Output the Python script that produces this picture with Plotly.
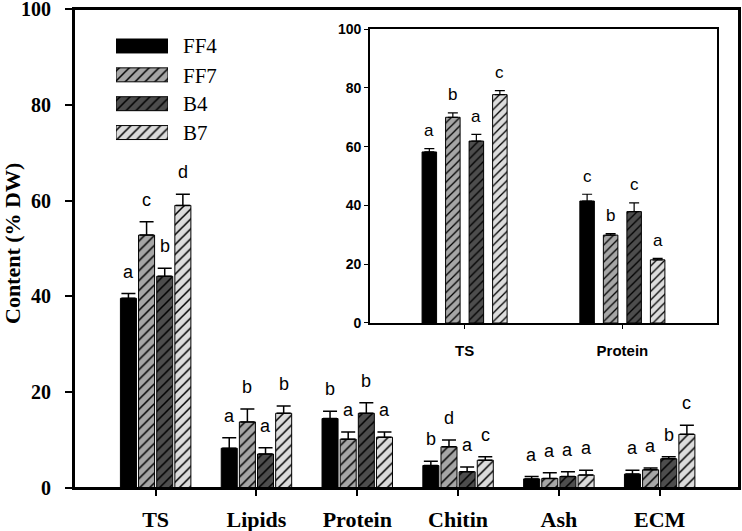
import plotly.graph_objects as go

# ---------------- data ----------------
categories = ["TS", "Lipids", "Protein", "Chitin", "Ash", "ECM"]
series = ["FF4", "FF7", "B4", "B7"]

ff4 = [39.6, 8.3, 14.5, 4.7, 1.9, 2.9]
ff4_err = [1.0, 2.2, 1.5, 0.9, 0.5, 0.8]
ff7 = [52.8, 13.8, 10.2, 8.6, 2.0, 3.8]
ff7_err = [2.8, 2.7, 1.5, 1.4, 1.2, 0.4]
b4 = [44.2, 7.1, 15.6, 3.4, 2.4, 6.1]
b4_err = [1.7, 1.3, 2.2, 1.0, 1.0, 0.4]
b7 = [59.0, 15.6, 10.6, 5.8, 2.7, 11.2]
b7_err = [2.3, 1.5, 1.1, 0.7, 1.0, 1.9]

ff4_letters = ["a", "a", "b", "b", "a", "a"]
ff7_letters = ["c", "b", "a", "d", "a", "a"]
b4_letters = ["b", "a", "b", "a", "a", "b"]
b7_letters = ["d", "b", "a", "c", "a", "c"]

inset_categories = ["TS", "Protein"]
in_ff4 = [58.2, 41.5]
in_ff4_err = [1.1, 2.3]
in_ff7 = [70.0, 29.9]
in_ff7_err = [1.5, 0.5]
in_b4 = [61.9, 37.9]
in_b4_err = [2.3, 3.0]
in_b7 = [77.7, 21.5]
in_b7_err = [1.4, 0.5]

in_ff4_letters = ["a", "c"]
in_ff7_letters = ["b", "b"]
in_b4_letters = ["a", "c"]
in_b7_letters = ["c", "a"]

main_ticks = [0, 20, 40, 60, 80, 100]
inset_ticks = [0, 20, 40, 60, 80, 100]

# ---------------- styles ----------------
fills = ["#000000", "#a6a6a6", "#4d4d4d", "#dcdcdc"]
shapes_ = ["", "/", "/", "/"]

main_vals = [ff4, ff7, b4, b7]
main_errs = [ff4_err, ff7_err, b4_err, b7_err]
main_letters = [ff4_letters, ff7_letters, b4_letters, b7_letters]
in_vals = [in_ff4, in_ff7, in_b4, in_b7]
in_errs = [in_ff4_err, in_ff7_err, in_b4_err, in_b7_err]
in_letters = [in_ff4_letters, in_ff7_letters, in_b4_letters, in_b7_letters]

xpos = list(range(len(categories)))
xpos_in = list(range(len(inset_categories)))

MAIN_W, MAIN_P = 0.159, 0.18
IN_W, IN_P = 0.092, 0.149

serif = "Liberation Serif, Times New Roman, serif"
sans = "Liberation Sans, Arial, sans-serif"

fig = go.Figure()
annotations = []


def pattern(i, size):
    if shapes_[i] == "":
        return dict(shape="")
    return dict(shape=shapes_[i], fgcolor="black", bgcolor=fills[i],
                size=size, solidity=0.22, fillmode="replace")


for i, name in enumerate(series):
    c_off = (i - 1.5) * MAIN_P
    fig.add_trace(go.Bar(
        x=xpos, y=main_vals[i], name=name, width=MAIN_W,
        offset=c_off - MAIN_W / 2,
        marker=dict(color=fills[i], line=dict(color="black", width=1),
                    pattern=pattern(i, 7)),
        error_y=dict(type="data", array=main_errs[i],
                     arrayminus=[0] * len(xpos), symmetric=False,
                     color="black", thickness=1.5, width=7),
        xaxis="x", yaxis="y", showlegend=False))
    for j in xpos:
        annotations.append(dict(
            x=j + c_off, y=main_vals[i][j] + main_errs[i][j], xref="x", yref="y",
            text=main_letters[i][j], showarrow=False, yanchor="middle",
            yshift=22, font=dict(family=sans, size=18, color="black")))

for i, name in enumerate(series):
    c_off = (i - 1.5) * IN_P
    fig.add_trace(go.Bar(
        x=xpos_in, y=in_vals[i], name=name, width=IN_W,
        offset=c_off - IN_W / 2,
        marker=dict(color=fills[i], line=dict(color="black", width=1),
                    pattern=pattern(i, 6)),
        error_y=dict(type="data", array=in_errs[i],
                     arrayminus=[0] * len(xpos_in), symmetric=False,
                     color="black", thickness=1.2, width=5),
        xaxis="x2", yaxis="y2", showlegend=False))
    for j in xpos_in:
        annotations.append(dict(
            x=j + c_off, y=in_vals[i][j] + in_errs[i][j], xref="x2", yref="y2",
            text=in_letters[i][j], showarrow=False, yanchor="middle",
            yshift=18, font=dict(family=sans, size=17, color="black")))

# custom legend swatches (long hatched rectangles like the original)
for i, name in enumerate(series):
    fig.add_trace(go.Bar(
        y=[i], x=[1], orientation="h", width=0.484,
        marker=dict(color=fills[i], line=dict(color="black", width=1),
                    pattern=pattern(i, 7)),
        xaxis="x3", yaxis="y3", showlegend=False, hoverinfo="skip"))

leg_y = [45, 75, 103.3, 131.7]
for i, name in enumerate(series):
    annotations.append(dict(
        x=(181 - 74) / 665, y=(487 - leg_y[i]) / 479, xref="paper", yref="paper",
        text=name, showarrow=False, xanchor="left", yanchor="middle",
        font=dict(family=serif, size=21, color="black")))

annotations.append(dict(
    x=(13 - 74) / 665, y=(487 - 243) / 479, xref="paper", yref="paper",
    text="<b>Content (% DW)</b>", textangle=-90, showarrow=False,
    xanchor="center", yanchor="middle", borderpad=0,
    font=dict(family=serif, size=22, color="black")))

axis_line = dict(showline=True, linecolor="black", linewidth=2, mirror=True,
                 showgrid=False, zeroline=False, automargin=False,
                 ticklabeloverflow="allow")

fig.update_layout(
    width=742, height=531,
    margin=dict(l=74, r=3, t=9, b=43, autoexpand=False),
    paper_bgcolor="white", plot_bgcolor="white",
    barmode="overlay",
    xaxis=dict(domain=[0, 1], range=[-0.81, 5.787], tickmode="array",
               tickvals=xpos, ticktext=categories, ticks="outside",
               ticklen=6, tickwidth=1.5, tickcolor="black",
               ticklabelstandoff=5,
               tickfont=dict(family=serif, size=22, color="black", weight="bold"),
               **axis_line),
    yaxis=dict(domain=[0, 1], range=[0, 100], tickmode="array",
               tickvals=main_ticks, ticks="outside", ticklen=7, tickwidth=1.5,
               tickcolor="black", ticklabelstandoff=10,
               tickfont=dict(family=serif, size=20, color="black", weight="bold"),
               **axis_line),
    xaxis2=dict(domain=[0.445, 0.967], range=[-0.6, 1.6], anchor="y2",
                tickmode="array", tickvals=xpos_in, ticktext=inset_categories,
                ticks="outside", ticklen=4, tickwidth=1, tickcolor="black",
                ticklabelstandoff=9, automargin=False,
                tickfont=dict(family=sans, size=15, color="black", weight="bold"),
                showline=True, linecolor="black", linewidth=1.5, mirror=True,
                showgrid=False, zeroline=False),
    yaxis2=dict(domain=[0.3445, 0.958], range=[0, 100], anchor="x2",
                tickmode="array", tickvals=inset_ticks, ticks="outside",
                ticklen=4, tickwidth=1, tickcolor="black", automargin=False,
                tickfont=dict(family=sans, size=14, color="black", weight="bold"),
                showline=True, linecolor="black", linewidth=1.5, mirror=True,
                showgrid=False, zeroline=False),
    xaxis3=dict(domain=[(116 - 74) / 665, (168 - 74) / 665], range=[0, 1],
                anchor="y3", visible=False, fixedrange=True, automargin=False),
    yaxis3=dict(domain=[(487 - 30.55) / 479 - 0.241, (487 - 30.55) / 479],
                range=[3.5, -0.5], anchor="x3", visible=False, fixedrange=True,
                automargin=False),
    shapes=[dict(type="rect", xref="paper", yref="paper", x0=0, x1=1, y0=0, y1=1,
                 line=dict(color="black", width=2), fillcolor="rgba(0,0,0,0)",
                 layer="above")],
    annotations=annotations,
)

fig.write_html(
    "out.html",
    config={"displayModeBar": False},
    post_script="document.body.style.margin='0';document.body.style.padding='0';",
)
